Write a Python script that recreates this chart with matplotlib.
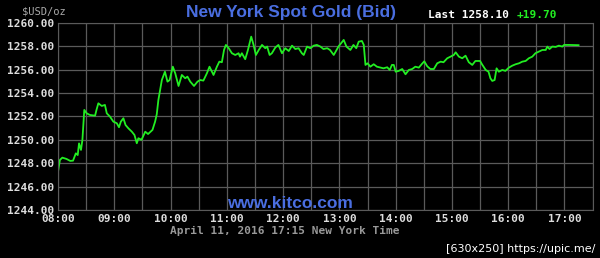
#!/usr/bin/env python3
import matplotlib
matplotlib.use("Agg")
import matplotlib.pyplot as plt

# minutes after 08:00 and bid price
minutes = [0, 2, 4.6, 9, 13, 16, 19, 21, 22.4, 24.5, 26, 28, 30.6, 34, 39.5, 41, 43, 46.6,
           50, 52, 55.5, 59, 62.7, 65, 67, 69.7, 72, 75, 78.7, 81.5, 84, 85.7, 89, 93, 96,
           100.7, 103.5, 105.3, 107, 110.7, 114, 116.7, 119, 122.4, 125, 128.5, 132, 135.6,
           138, 141, 145, 148.7, 151.6, 155, 158.7, 161.5, 165.8, 169.4, 172, 174.7, 177,
           179, 182, 185.4, 189, 192.5, 194, 196, 199.6, 202.5, 206, 208.5, 211, 214, 217.5,
           221, 223, 225.6, 228, 231.7, 235, 238.8, 242.3, 246, 249.5, 253, 256.5, 260, 262,
           265.5, 269, 272.6, 276, 279.7, 283, 287, 290, 294, 297, 299, 304.6, 307.5, 311.7,
           315, 318, 320.6, 324, 326, 327.8, 330, 333, 336.6, 340, 343.8, 347, 351, 353.7,
           356, 358, 360, 363.3, 367, 370.5, 374, 377.6, 381, 384.7, 388, 390.5, 393.6, 397,
           400.7, 404.3, 408, 411, 415, 418.5, 422, 424, 427.4, 431, 434.5, 438, 441.7, 445,
           450, 452, 456, 459, 461, 463, 465.5, 467.6, 470, 473.7, 477, 480.7, 484.4, 488,
           491.5, 495, 498.6, 502, 505.7, 509, 512.8, 516.4, 520, 521.7, 524, 527, 530.6,
           534, 537.7, 539.5, 545, 555]
prices = [1247.28, 1248.28, 1248.48, 1248.37, 1248.2, 1248.22, 1248.85, 1248.7, 1249.7,
          1249.14, 1250.0, 1252.56, 1252.27, 1252.13, 1252.07, 1252.56, 1253.13, 1252.9,
          1252.99, 1252.27, 1251.98, 1251.56, 1251.42, 1251.08, 1251.56, 1251.85, 1251.27,
          1250.99, 1250.70, 1250.42, 1249.71, 1250.14, 1250.0, 1250.70, 1250.5, 1250.85,
          1251.56, 1252.2, 1253.41, 1255.12, 1255.83, 1254.98, 1255.12, 1256.26, 1255.69,
          1254.61, 1255.55, 1255.27, 1255.41, 1254.98, 1254.61, 1254.98, 1255.12, 1255.07,
          1255.69, 1256.26, 1255.55, 1256.26, 1256.69, 1256.64, 1257.69, 1258.12, 1257.84,
          1257.41, 1257.26, 1257.41, 1257.12, 1257.41, 1256.9, 1257.69, 1258.83, 1258.12,
          1257.26, 1257.69, 1258.12, 1257.84, 1257.98, 1257.26, 1257.41, 1257.9, 1258.12,
          1257.41, 1257.84, 1257.6, 1258.06, 1257.77, 1257.84, 1257.41, 1257.26, 1257.98,
          1257.84, 1258.06, 1258.12, 1257.98, 1257.77, 1257.84, 1257.69, 1257.26, 1257.69,
          1257.98, 1258.55, 1257.98, 1257.69, 1258.12, 1257.84, 1258.4, 1258.46, 1258.12,
          1256.41, 1256.55, 1256.26, 1256.47, 1256.26, 1256.18, 1256.12, 1256.21, 1255.98,
          1256.41, 1256.41, 1255.83, 1255.9, 1256.06, 1255.61, 1255.98, 1256.06, 1256.26,
          1256.18, 1256.5, 1256.72, 1256.3, 1256.06, 1256.06, 1256.55, 1256.69, 1256.64,
          1256.98, 1257.12, 1257.26, 1257.49, 1257.12, 1256.98, 1257.2, 1256.64, 1256.41,
          1256.75, 1256.75, 1256.47, 1255.98, 1255.83, 1255.27, 1255.04, 1255.12, 1256.12,
          1255.83, 1255.98, 1255.9, 1256.18, 1256.35, 1256.47, 1256.55, 1256.69, 1256.75,
          1256.98, 1257.12, 1257.41, 1257.55, 1257.69, 1257.69, 1257.98, 1257.77, 1257.98,
          1257.95, 1258.06, 1257.98, 1258.12, 1258.12, 1258.10]

hour_labels = ["08:00", "09:00", "10:00", "11:00", "12:00", "13:00", "14:00", "15:00",
               "16:00", "17:00"]
y_ticks = [1244, 1246, 1248, 1250, 1252, 1254, 1256, 1258, 1260]

mono = "DejaVu Sans Mono"
grid_col = "#5a5a5a"

fig = plt.figure(figsize=(6.0, 2.58), dpi=100, facecolor="black")
ax = fig.add_axes([0.0967, 0.186, 0.891, 0.725], facecolor="black")

ax.plot(minutes, prices, color="#22ee22", lw=1.3)

ax.set_xlim(0, 570)
ax.set_ylim(1244, 1260)
ax.set_xticks(range(0, 571, 30))
ax.set_xticklabels([hour_labels[i // 2] if i % 2 == 0 else "" for i in range(20)])
ax.set_yticks(y_ticks)
ax.set_yticklabels([f"{v:.2f}" for v in y_ticks])
ax.grid(True, color=grid_col, lw=0.9)
ax.tick_params(length=0, pad=3, colors="#dddddd")
for lab in ax.get_xticklabels() + ax.get_yticklabels():
    lab.set_fontfamily(mono)
    lab.set_fontweight("bold")
    lab.set_fontsize(8)
for sp in ax.spines.values():
    sp.set_color(grid_col)

fig.text(22 / 600, 1 - 11 / 258, "$USD/oz", color="#aaaaaa", fontsize=7.5,
         family=mono, va="center")
fig.text(291 / 600, 1 - 12 / 258, "New York Spot Gold (Bid)", color="#4a6ee0",
         fontsize=12.5, fontweight="bold", family="Liberation Sans", ha="center", va="center")
fig.text(428 / 600, 1 - 15 / 258, "Last 1258.10", color="white", fontsize=8,
         fontweight="bold", family=mono, va="center")
fig.text(517 / 600, 1 - 15 / 258, "+19.70", color="#22ee22", fontsize=8,
         fontweight="bold", family=mono, va="center")
fig.text(290 / 600, 1 - 203 / 258, "www.kitco.com", color="#4a6ee0", fontsize=12.5,
         fontweight="bold", family="Liberation Sans", ha="center", va="center")
fig.text(170 / 600, 1 - 231 / 258, "April 11, 2016 17:15 New York Time", color="#999999",
         fontsize=8, fontweight="bold", family=mono, va="center")
fig.text(595 / 600, 1 - 249 / 258, "[630x250] https://upic.me/", color="white",
         fontsize=8, ha="right", va="center")

fig.savefig("out.png", dpi=100, facecolor="black")
